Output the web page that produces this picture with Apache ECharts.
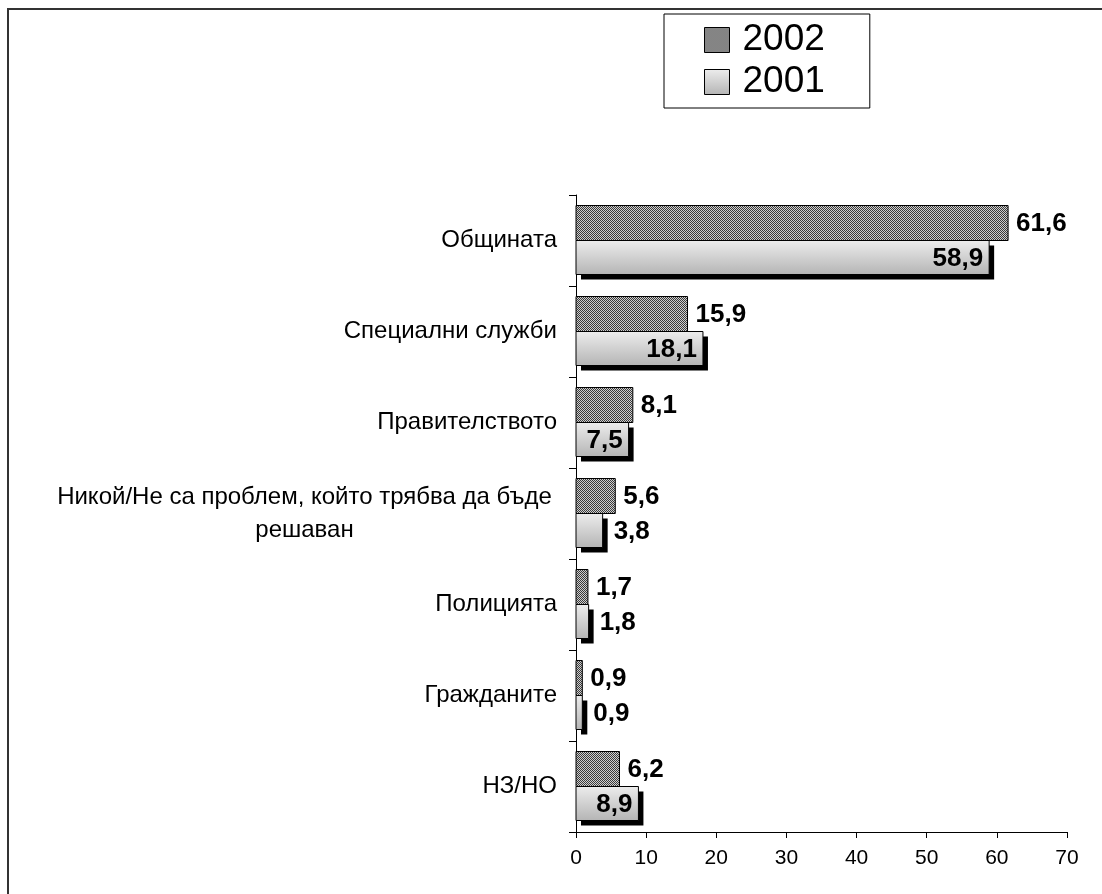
<!DOCTYPE html>
<html><head><meta charset="utf-8">
<script src="https://cdn.jsdelivr.net/npm/echarts@6/dist/echarts.min.js"></script>
<style>html,body{margin:0;padding:0;background:#fff}#c{width:1102px;height:894px}</style>
</head><body><div id="c"></div>
<script>
const categories = ['Общината','Специални служби','Правителството','Никой/Не са проблем, който трябва да бъде решаван','Полицията','Гражданите','НЗ/НО'];
const seriesNames = ['2002','2001'];
const values2002 = [61.6,15.9,8.1,5.6,1.7,0.9,6.2];
const values2001 = [58.9,18.1,7.5,3.8,1.8,0.9,8.9];
const xMin = 0, xMax = 70, xStep = 10;

const pc = document.createElement('canvas'); pc.width = 2; pc.height = 2;
const g = pc.getContext('2d');
g.fillStyle = '#cfcfcf'; g.fillRect(0,0,2,2);
g.fillStyle = '#3a3a3a'; g.fillRect(0,0,1,1); g.fillRect(1,1,1,1);
const pattern = {image: pc, repeat: 'repeat'};
const grad = () => ({type:'linear', x:0, y:0, x2:0, y2:1, global:false, colorStops:[{offset:0,color:'#ededed'},{offset:1,color:'#b4b4b4'}]});
const font = '"Liberation Sans", Arial, sans-serif';
const labelFont = 'bold 26px "Liberation Sans", Arial, sans-serif';
const fmtV = v => v.toFixed(1).replace('.', ',');
const BW = 35;

function render2002(params, api) {
  const v = api.value(0), idx = api.value(1);
  const p0 = api.coord([0, idx]), p1 = api.coord([v, idx]);
  const y = p0[1] - BW;
  return {type:'group', children:[
    {type:'rect', shape:{x:p0[0], y:y, width:p1[0]-p0[0], height:BW}, style:{fill:pattern, stroke:'#000', lineWidth:1}},
    {type:'text', style:{text:fmtV(v), x:p1[0]+8, y:y+BW/2+1, align:'left', verticalAlign:'middle', font:labelFont, fill:'#000'}}
  ]};
}
function render2001(params, api) {
  const v = api.value(0), idx = api.value(1);
  const p0 = api.coord([0, idx]), p1 = api.coord([v, idx]);
  const y = p0[1], h = BW - 1, w = p1[0]-p0[0];
  const inside = v >= 5;
  return {type:'group', children:[
    {type:'rect', shape:{x:p0[0]+5, y:y+5, width:w, height:h}, style:{fill:'#000'}},
    {type:'rect', shape:{x:p0[0], y:y, width:w, height:h}, style:{fill:grad(), stroke:'#000', lineWidth:1}},
    {type:'text', style:{text:fmtV(v), x: inside ? p1[0]-6 : p1[0]+11, y:y+h/2+1, align: inside ? 'right' : 'left', verticalAlign:'middle', font:labelFont, fill:'#000'}}
  ]};
}

const chart = echarts.init(document.getElementById('c'), null, {renderer:'canvas'});
chart.setOption({
  animation: false,
  graphic: [{type:'rect', shape:{x:8, y:9, width:1200, height:1000}, style:{fill:'none', stroke:'#333', lineWidth:2}, z:-10}],
  legend: {
    data: [
      {name: seriesNames[0], itemStyle:{color: pattern, borderColor:'#000', borderWidth:1}},
      {name: seriesNames[1], itemStyle:{color: grad(), borderColor:'#000', borderWidth:1}}
    ],
    orient:'vertical', left: 664, top: 14, icon:'rect',
    padding: [5, 45, 5, 40], itemGap: 0, itemWidth: 25, itemHeight: 25,
    borderColor: '#000', borderWidth: 1, backgroundColor: '#fff',
    textStyle: {fontFamily: font, fontSize: 37, color: '#000', lineHeight: 42, padding:[0,0,0,8]}
  },
  grid: {left: 576, right: 35, top: 195, bottom: 62},
  xAxis: {
    type:'value', min:xMin, max:xMax, interval:xStep,
    axisLine:{show:true, lineStyle:{color:'#000'}},
    axisTick:{show:true, length:6, lineStyle:{color:'#000'}},
    splitLine:{show:false},
    axisLabel:{fontFamily:font, fontSize:21, color:'#000', margin:16}
  },
  yAxis: {
    type:'category', data: categories, inverse: true,
    axisLine:{show:true, lineStyle:{color:'#000'}},
    axisTick:{show:true, length:7, lineStyle:{color:'#000'}},
    axisLabel:{
      fontFamily:font, fontSize:24, color:'#000', margin:19, lineHeight:33,
      formatter: v => {
        if (v.length > 30) {
          const i = v.lastIndexOf(' ');
          return '{c|' + v.slice(0,i) + '}\n{c|' + v.slice(i+1) + '}';
        }
        return v;
      },
      rich: {c:{width:505, align:'center', fontFamily:font, fontSize:24, lineHeight:33, color:'#000'}}
    }
  },
  series: [
    {
      name: seriesNames[0], type:'custom', renderItem: render2002,
      data: values2002.map((v,i) => [v, i]), encode:{x:0, y:1},
      itemStyle:{color: pattern, borderColor:'#000', borderWidth:1}
    },
    {
      name: seriesNames[1], type:'custom', renderItem: render2001,
      data: values2001.map((v,i) => [v, i]), encode:{x:0, y:1},
      itemStyle:{color: grad(), borderColor:'#000', borderWidth:1}
    }
  ]
});
</script></body></html>
